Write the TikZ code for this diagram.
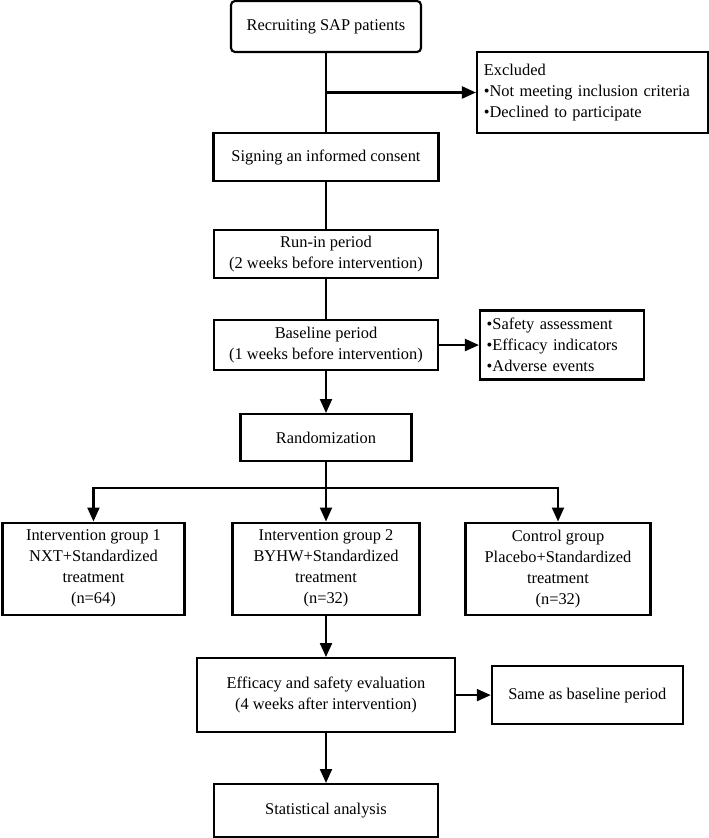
\documentclass[tikz,border=0pt]{standalone}
\usepackage{fontspec}
\setmainfont{Liberation Serif}
\usepackage{tikz}
\usetikzlibrary{shapes,arrows.meta}
\tikzstyle{stage} = [draw, rectangle, line width=1.6pt, text centered, align=center, minimum width=168pt, minimum height=36pt, inner sep=2pt]
\tikzstyle{group} = [stage, minimum height=69pt]
\tikzstyle{note} = [draw, rectangle, line width=1.6pt, align=left, inner sep=5pt]
\tikzstyle{line} = [draw, line width=1.6pt, -{Triangle[length=10.5pt,width=9pt]}]
\tikzstyle{plain} = [draw, line width=1.6pt]

\begin{document}
\begin{tikzpicture}[node distance = 2cm, font=\fontsize{12.3}{15.75}\selectfont]
    \useasboundingbox (-244.5pt,19.875pt) rectangle (287.25pt,-608.625pt);
    % Place nodes
    \node [stage, rounded corners=3pt, minimum width=142.5pt, minimum height=38.25pt] (recruit) {Recruiting SAP patients};
    \node [stage, below of=recruit, node distance=97.9pt, minimum width=168.75pt] (consent) {Signing an informed consent};
    \node [stage, below of=consent, node distance=72.75pt] (runin) {Run-in period\\(2 weeks before intervention)};
    \node [stage, below of=runin, node distance=68.25pt, minimum height=37.5pt] (baseline) {Baseline period\\(1 weeks before intervention)};
    \node [stage, below of=baseline, node distance=69.4pt, minimum width=128.25pt, minimum height=35.25pt] (random) {Randomization};
    \node [group, below of=random, node distance=98.25pt, minimum width=140.25pt] (group2) {Intervention group 2\\BYHW+Standardized\\treatment\\(n=32)};
    \node [group, left of=group2, node distance=174.4pt, minimum width=136.5pt] (group1) {Intervention group 1\\NXT+Standardized\\treatment\\(n=64)};
    \node [group, right of=group2, node distance=174pt, minimum width=138.75pt] (control) {Control group\\Placebo+Standardized\\treatment\\(n=32)};
    \node [stage, below of=group2, node distance=94.9pt, minimum width=193.5pt, minimum height=55.5pt] (evaluation) {Efficacy and safety evaluation\\(4 weeks after intervention)};
    \node [stage, below of=evaluation, node distance=86.6pt, minimum height=39.75pt] (analysis) {Statistical analysis};
    \node [note, right of=recruit, node distance=199.9pt, yshift=-49.5pt, minimum width=173.25pt, minimum height=60.75pt, text width=163pt] (excluded) {Excluded\\•Not meeting inclusion criteria\\•Declined to participate\\[4pt]};
    \node [note, right of=baseline, node distance=177pt, minimum width=123pt, minimum height=51.75pt, text width=113pt] (measures) {•Safety assessment\\•Efficacy indicators\\•Adverse events};
    \node [stage, right of=evaluation, node distance=196pt, minimum width=143.25pt, minimum height=43.5pt] (same) {Same as baseline period};
    % Helper coordinates
    \coordinate (exsplit) at (recruit |- excluded);
    \coordinate [below of=random, node distance=37.9pt] (split);
    % Draw edges
    \path [plain] (recruit) -- (consent);
    \path [line] (exsplit) -- (excluded);
    \path [plain] (consent) -- (runin);
    \path [plain] (runin) -- (baseline);
    \path [line] (baseline) -- (measures);
    \path [line] (baseline) -- (random);
    \path [plain] (random) -- (split);
    \path [line] (split) -| (group1);
    \path [line] (split) -- (group2);
    \path [line] (split) -| (control);
    \path [line] (group2) -- (evaluation);
    \path [line] (evaluation) -- (same);
    \path [line] (evaluation) -- (analysis);
\end{tikzpicture}
\end{document}
